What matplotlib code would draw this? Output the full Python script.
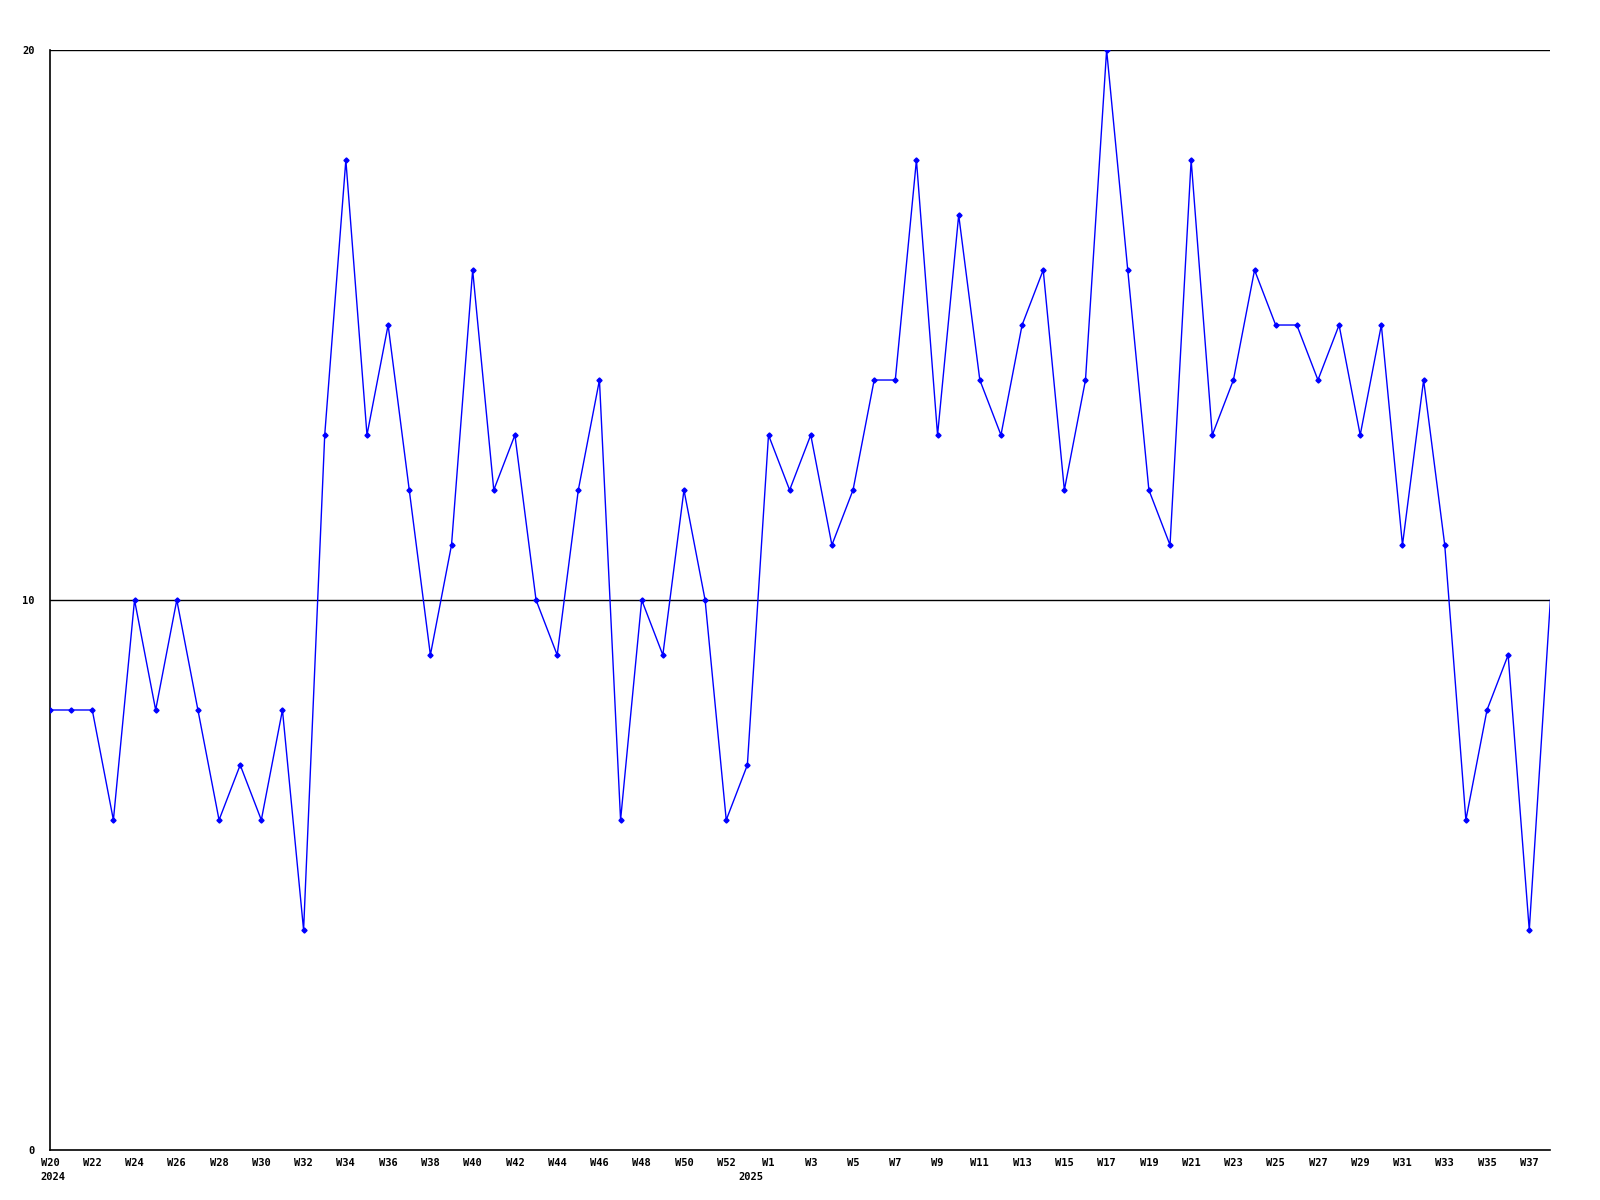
import matplotlib
matplotlib.use("Agg")
import matplotlib.pyplot as plt

weeks = ([f"W{w}" for w in range(20, 53)] + ["W0"] + [f"W{w}" for w in range(1, 39)])
values = [8, 8, 8, 6, 10, 8, 10, 8, 6, 7, 6, 8, 4, 13, 18, 13, 15, 12, 9, 11,
          16, 12, 13, 10, 9, 12, 14, 6, 10, 9, 12, 10, 6,
          7,
          13, 12, 13, 11, 12, 14, 14, 18, 13, 17, 14, 13, 15, 16, 12, 14, 20, 16,
          12, 11, 18, 13, 14, 16, 15, 15, 14, 15, 13, 15, 11, 14, 11, 6, 8, 9, 4, 10]
year_labels = ["2024", "2025"]
year_start_idx = [0, 33]
yticks = [0, 10, 20]

fig = plt.figure(figsize=(16, 12), dpi=100)
ax = fig.add_axes([0.03125, 0.0417, 0.969 - 0.03125, 0.9583 - 0.0417])
x = list(range(len(values)))
ax.plot(x, values, color="#0000FF", lw=1.0, marker="D", markersize=2.6,
        markevery=list(range(len(values) - 1)), zorder=3)
ax.set_xlim(0, len(values) - 1)
ax.set_ylim(0, 20)
for s in ["top", "right"]:
    ax.spines[s].set_visible(False)
for s in ["left", "bottom"]:
    ax.spines[s].set_color("black")
    ax.spines[s].set_linewidth(1.2)
for yv in yticks[1:]:
    ax.axhline(yv, color="black", lw=1.0, zorder=1)

font = dict(family="DejaVu Sans Mono", weight="bold", size=7.5)
ax.set_yticks(yticks)
ax.set_yticklabels([str(v) for v in yticks], **font)
ax.tick_params(axis="y", length=0, pad=11)
tick_idx = list(range(0, len(values), 2))
ax.set_xticks(tick_idx)
ax.set_xticklabels([weeks[i] for i in tick_idx], **font)
ax.tick_params(axis="x", length=0, pad=6)
for lab, i in zip(year_labels, year_start_idx):
    ax.text(i + 0.15, -0.0245, lab, transform=ax.get_xaxis_transform(),
            ha="center", va="center", **font)

fig.savefig("out.png", dpi=100)
